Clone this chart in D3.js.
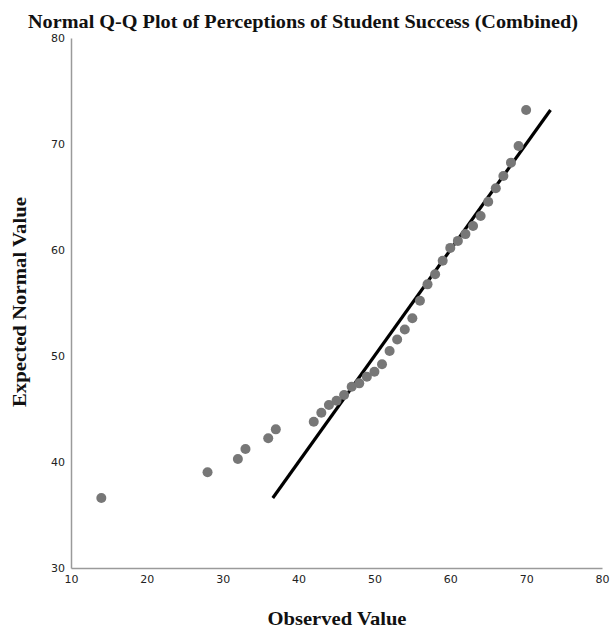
<!DOCTYPE html>
<html>
<head>
<meta charset="utf-8">
<script src="https://cdn.jsdelivr.net/npm/d3@7"></script>
<style>
  html, body { margin: 0; padding: 0; background: #fff; }
  svg { display: block; }
</style>
</head>
<body>
<script>
// Observed score values and their expected normal quantiles
const observed = [14, 28, 32, 33, 36, 37, 42, 43, 44, 45, 46, 47, 48, 49, 50, 51, 52, 53, 54, 55, 56, 57, 58, 59, 60, 61, 62, 63, 64, 65, 66, 67, 68, 69, 70];
const expected = [36.6, 39.03, 40.28, 41.23, 42.24, 43.08, 43.8, 44.65, 45.38, 45.78, 46.32, 47.1, 47.42, 48.05, 48.52, 49.22, 50.47, 51.56, 52.5, 53.56, 55.22, 56.76, 57.71, 58.99, 60.2, 60.86, 61.5, 62.26, 63.21, 64.56, 65.82, 66.98, 68.24, 69.81, 73.21];
const xTicks = [10, 20, 30, 40, 50, 60, 70, 80];
const yTicks = [30, 40, 50, 60, 70, 80];

const W = 613, H = 628;
const svg = d3.select("body").append("svg").attr("width", W).attr("height", H);

const x = d3.scaleLinear().domain([10, 80]).range([71, 602]);
const y = d3.scaleLinear().domain([30, 80]).range([568, 38]);

const serif = "'Liberation Serif', 'Times New Roman', serif";

// Title
svg.append("text")
  .attr("x", 303).attr("y", 28)
  .attr("text-anchor", "middle")
  .attr("textLength", 550).attr("lengthAdjust", "spacingAndGlyphs")
  .style("font-family", serif)
  .style("font-weight", "bold").style("font-size", "19px")
  .attr("fill", "#111")
  .text("Normal Q-Q Plot of Perceptions of Student Success (Combined)");

// Axes (no tick marks, gray domain lines)
const axisFont = "'DejaVu Sans', Tahoma, sans-serif";
const gx = svg.append("g").attr("transform", `translate(0,${y(30)})`)
  .call(d3.axisBottom(x).tickValues(xTicks).tickSize(0).tickPadding(7).tickFormat(d3.format("d")));
const gy = svg.append("g").attr("transform", `translate(${x(10)},0)`)
  .call(d3.axisLeft(y).tickValues(yTicks).tickSize(0).tickPadding(6).tickFormat(d3.format("d")));
[gx, gy].forEach(g => {
  g.select(".domain").attr("stroke", "#9a9a9a").attr("stroke-width", 1.5);
  g.selectAll("text").style("font-family", axisFont).style("font-size", "11px").attr("fill", "#222");
});
gx.selectAll("text").attr("dy", "0.71em");

// Axis titles
svg.append("text")
  .attr("x", 337).attr("y", 625)
  .attr("text-anchor", "middle")
  .attr("textLength", 139).attr("lengthAdjust", "spacingAndGlyphs")
  .style("font-family", serif)
  .style("font-weight", "bold").style("font-size", "19px")
  .attr("fill", "#111")
  .text("Observed Value");
svg.append("text")
  .attr("transform", `translate(26,302) rotate(-90)`)
  .attr("text-anchor", "middle")
  .attr("textLength", 210).attr("lengthAdjust", "spacingAndGlyphs")
  .style("font-family", serif)
  .style("font-weight", "bold").style("font-size", "19px")
  .attr("fill", "#111")
  .text("Expected Normal Value");

// Reference line y = x across the range of expected values
const lo = d3.min(expected), hi = d3.max(expected);
svg.append("line")
  .attr("x1", x(lo)).attr("y1", y(lo))
  .attr("x2", x(hi)).attr("y2", y(hi))
  .attr("stroke", "#000").attr("stroke-width", 3.2);

// Points
const pts = observed.map((d, i) => ({ o: d, e: expected[i] }));
svg.append("g").selectAll("circle").data(pts).join("circle")
  .attr("cx", d => x(d.o)).attr("cy", d => y(d.e))
  .attr("r", 5).attr("fill", "#777");
</script>
</body>
</html>
